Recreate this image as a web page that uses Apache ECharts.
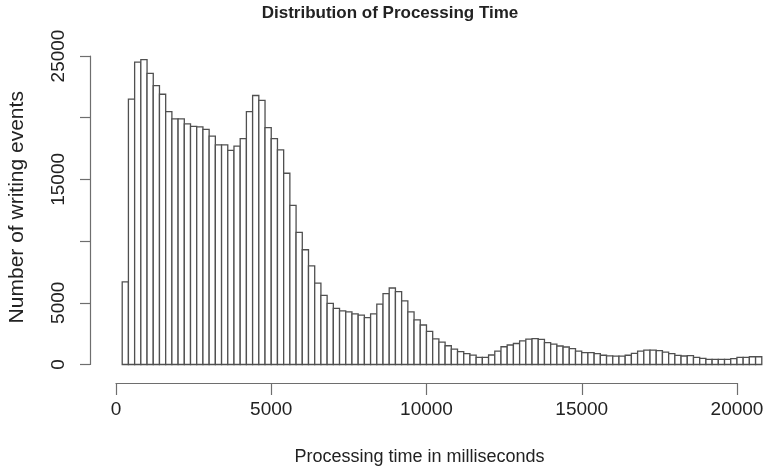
<!DOCTYPE html>
<html>
<head>
<meta charset="utf-8">
<script src="https://cdn.jsdelivr.net/npm/echarts@6/dist/echarts.min.js"></script>
<style>
  html, body { margin: 0; padding: 0; background: #ffffff; }
  #chart { width: 768px; height: 473px; }
</style>
</head>
<body>
<div id="chart"></div>
<script>
// Histogram breaks: 200 ms wide bins, first lower edge at 200 ms
const binStart = 200;
const binWidth = 200;

// Number of writing events in each bin
const counts = [
  6700, 21500, 24500, 24700, 23600, 22600, 21900, 20500, 19900, 19900,
  19500, 19300, 19250, 19050, 18500, 17800, 17800, 17350, 17700, 18300,
  20500, 21800, 21400, 19200, 18300, 17400, 15500, 12900, 10700, 9300,
  8000, 6600, 5600, 4950, 4550, 4350, 4270, 4100, 4000, 3800,
  4100, 4900, 5750, 6200, 5900, 5150, 4270, 3620, 3200, 2680,
  2080, 1820, 1520, 1250, 1040, 880, 760, 580, 580, 770,
  1080, 1440, 1580, 1700, 1920, 2060, 2100, 2040, 1780, 1650,
  1500, 1420, 1280, 1090, 970, 960, 880, 750, 700, 680,
  680, 750, 900, 1090, 1170, 1170, 1120, 1000, 880, 740,
  690, 720, 580, 500, 420, 420, 420, 420, 470, 580,
  580, 630, 630
];

// Tick values; only some of the y ticks carry a label
const xTickValues = [0, 5000, 10000, 15000, 20000];
const yTickValues = [0, 5000, 10000, 15000, 20000, 25000];
const yTickLabels = ['0', '5000', '', '15000', '', '25000'];

const mainTitle = 'Distribution of Processing Time';
const xTitle = 'Processing time in milliseconds';
const yTitle = 'Number of writing events';

const FONT = '"Liberation Sans", Arial, Helvetica, sans-serif';
const AXIS_GREY = '#6e6e6e';
const TEXT = '#222222';

const binData = counts.map((c, i) => [binStart + i * binWidth, binStart + (i + 1) * binWidth, c]);

const chart = echarts.init(document.getElementById('chart'), null, { renderer: 'canvas' });

chart.setOption({
  animation: false,
  backgroundColor: '#ffffff',
  title: {
    text: mainTitle,
    left: 385,
    top: 0,
    textAlign: 'center',
    textStyle: { fontFamily: FONT, fontSize: 17, fontWeight: 'bold', color: TEXT }
  },
  grid: [
    // plotting region for the bins
    { left: 116, right: 0, top: 56, bottom: 108.5, containLabel: false },
    // strip carrying the x axis (0 .. 20000)
    { left: 116, width: 621, top: 382, height: 1, containLabel: false },
    // strip carrying the y axis (0 .. 25000), set off to the left of the bins
    { left: 90, width: 1, top: 56, bottom: 108.5, containLabel: false }
  ],
  xAxis: [
    { gridIndex: 0, type: 'value', min: 0, max: 21000, show: false },
    {
      gridIndex: 1, type: 'value', min: 0, max: 20000, interval: 5000,
      position: 'bottom',
      axisLine: { show: true, lineStyle: { color: AXIS_GREY, width: 1.2 } },
      axisTick: { show: true, length: 12, lineStyle: { color: AXIS_GREY, width: 1.2 } },
      splitLine: { show: false },
      axisLabel: {
        margin: 17, fontFamily: FONT, fontSize: 19, color: TEXT,
        formatter: v => (xTickValues.indexOf(v) >= 0 ? String(v) : '')
      },
      name: xTitle,
      nameLocation: 'middle',
      nameGap: 65,
      nameTextStyle: { fontFamily: FONT, fontSize: 18, color: TEXT, padding: [0, 14, 0, 0] }
    },
    { gridIndex: 2, type: 'value', min: 0, max: 1, show: false }
  ],
  yAxis: [
    { gridIndex: 0, type: 'value', min: 0, max: 25000, show: false },
    { gridIndex: 1, type: 'value', min: 0, max: 1, show: false },
    {
      gridIndex: 2, type: 'value', min: 0, max: 25000, interval: 5000,
      position: 'left',
      axisLine: { show: true, lineStyle: { color: AXIS_GREY, width: 1.2 } },
      axisTick: { show: true, length: 10, lineStyle: { color: AXIS_GREY, width: 1.2 } },
      splitLine: { show: false },
      axisLabel: {
        rotate: 90, margin: 22, fontFamily: FONT, fontSize: 19, color: TEXT,
        formatter: v => {
          const k = yTickValues.indexOf(v);
          return k >= 0 ? yTickLabels[k] : '';
        }
      },
      name: yTitle,
      nameLocation: 'middle',
      nameGap: 62,
      nameRotate: 90,
      nameTextStyle: { fontFamily: FONT, fontSize: 21, color: TEXT, padding: [0, 0, 0, 6] }
    }
  ],
  series: [
    {
      type: 'custom',
      xAxisIndex: 0,
      yAxisIndex: 0,
      data: binData,
      encode: { x: [0, 1], y: 2 },
      renderItem: (params, api) => {
        const top = api.coord([api.value(0), api.value(2)]);
        const base = api.coord([api.value(1), 0]);
        return {
          type: 'rect',
          shape: { x: top[0], y: top[1], width: base[0] - top[0], height: base[1] - top[1] },
          style: { fill: '#ffffff', stroke: '#505050', lineWidth: 1.3 }
        };
      }
    }
  ]
});
</script>
</body>
</html>
